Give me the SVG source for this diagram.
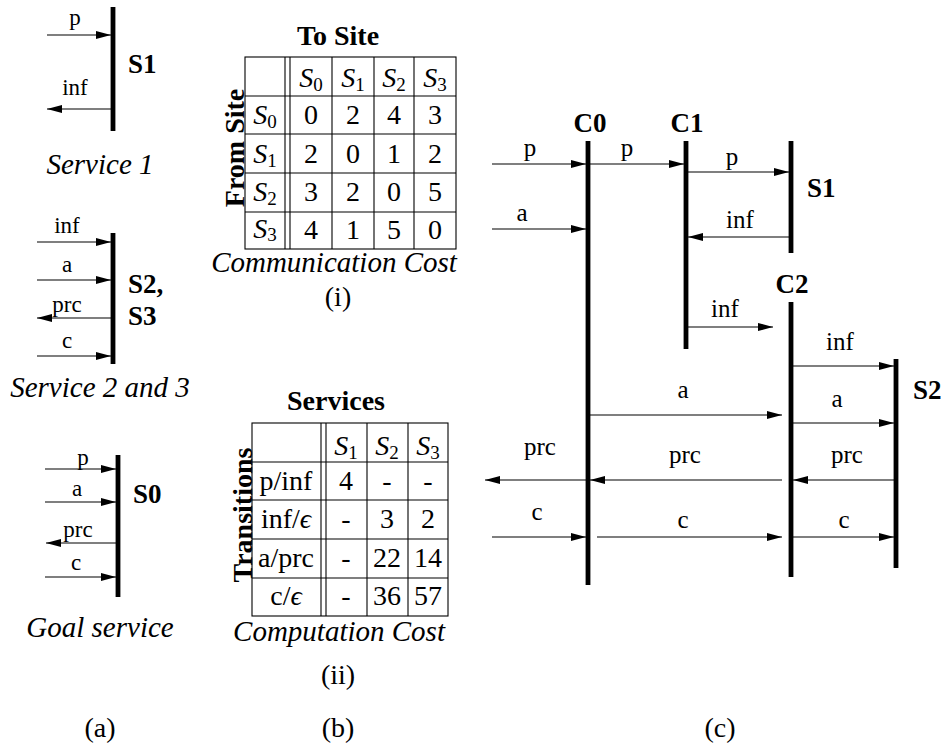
<svg xmlns="http://www.w3.org/2000/svg" width="945" height="746" viewBox="0 0 945 746" font-family="'Liberation Serif', 'Times New Roman', serif">
<style>
text{font-family:"Liberation Serif","Times New Roman","DejaVu Serif",serif;fill:#000}
.b{font-weight:bold;font-size:27px}
.t{font-weight:bold;font-size:28px}
.cap{font-style:italic;font-size:29px;text-anchor:middle}
.lbl{font-size:28px;text-anchor:middle}
.la{font-size:23px;text-anchor:middle}
.lc{font-size:25px;text-anchor:middle}
.cell{font-size:28px;text-anchor:middle}
.bar{stroke:#000;stroke-width:4.8;fill:none}
.arr{stroke:#000;stroke-width:1.1;fill:none;marker-end:url(#ah)}
.grid{stroke:#000;stroke-width:1.1;fill:none}
.sub{font-size:19px;font-style:normal}
.it{font-style:italic}
</style>
<defs>
<marker id="ah" markerWidth="15" markerHeight="8" refX="15" refY="4" orient="auto" markerUnits="userSpaceOnUse"><path d="M0,0 L15,4 L0,8 z" fill="#000"/></marker>
</defs>

<!-- (a) Service 1 -->
<g id="service1">
<line class="bar" x1="113" y1="7" x2="113" y2="131"/>
<text class="b" x="128" y="73">S1</text>
<text class="cap" x="100" y="174">Service 1</text>
</g>
<!-- (a) Service 2 and 3 -->
<g id="service23">
<line class="bar" x1="113" y1="233" x2="113" y2="364"/>
<text class="b" x="128" y="293">S2,</text>
<text class="b" x="128" y="325">S3</text>
<text class="cap" x="100" y="397">Service 2 and 3</text>
</g>
<!-- (a) Goal service -->
<g id="goal">
<line class="bar" x1="118" y1="455" x2="118" y2="597"/>
<text class="b" x="133" y="503">S0</text>
<text class="cap" x="100" y="637">Goal service</text>
</g>

<!-- (b) communication cost table -->
<g id="commtable">
<text class="t" x="338" y="45" text-anchor="middle">To Site</text>
<text class="t" transform="translate(244,148) rotate(-90)" text-anchor="middle">From Site</text>
<rect class="grid" x="245" y="57" width="211" height="192"/>
<line class="grid" x1="245" y1="96" x2="456" y2="96"/>
<line class="grid" x1="245" y1="134" x2="456" y2="134"/>
<line class="grid" x1="245" y1="173" x2="456" y2="173"/>
<line class="grid" x1="245" y1="212" x2="456" y2="212"/>
<line class="grid" x1="285" y1="57" x2="285" y2="249"/>
<line class="grid" x1="290" y1="57" x2="290" y2="249"/>
<line class="grid" x1="332" y1="57" x2="332" y2="249"/>
<line class="grid" x1="374" y1="57" x2="374" y2="249"/>
<line class="grid" x1="414" y1="57" x2="414" y2="249"/>
<text class="cell" x="311" y="87"><tspan class="it">S</tspan><tspan class="sub" dy="4">0</tspan></text>
<text class="cell" x="353" y="87"><tspan class="it">S</tspan><tspan class="sub" dy="4">1</tspan></text>
<text class="cell" x="394" y="87"><tspan class="it">S</tspan><tspan class="sub" dy="4">2</tspan></text>
<text class="cell" x="435" y="87"><tspan class="it">S</tspan><tspan class="sub" dy="4">3</tspan></text>
<text class="cell" x="265" y="124"><tspan class="it">S</tspan><tspan class="sub" dy="4">0</tspan></text>
<text class="cell" x="265" y="163"><tspan class="it">S</tspan><tspan class="sub" dy="4">1</tspan></text>
<text class="cell" x="265" y="201"><tspan class="it">S</tspan><tspan class="sub" dy="4">2</tspan></text>
<text class="cell" x="265" y="238"><tspan class="it">S</tspan><tspan class="sub" dy="3">3</tspan></text>
<text class="cell" x="311" y="124">0</text><text class="cell" x="353" y="124">2</text><text class="cell" x="394" y="124">4</text><text class="cell" x="435" y="124">3</text>
<text class="cell" x="311" y="163">2</text><text class="cell" x="353" y="163">0</text><text class="cell" x="394" y="163">1</text><text class="cell" x="435" y="163">2</text>
<text class="cell" x="311" y="201">3</text><text class="cell" x="353" y="201">2</text><text class="cell" x="394" y="201">0</text><text class="cell" x="435" y="201">5</text>
<text class="cell" x="311" y="239">4</text><text class="cell" x="353" y="239">1</text><text class="cell" x="394" y="239">5</text><text class="cell" x="435" y="239">0</text>
<text class="cap" x="334" y="272">Communication Cost</text>
<text class="lbl" x="338" y="306">(i)</text>
</g>

<!-- (b) computation cost table -->
<g id="comptable">
<text class="t" x="336" y="410" text-anchor="middle">Services</text>
<text class="t" transform="translate(252,515) rotate(-90)" text-anchor="middle">Transitions</text>
<rect class="grid" x="252" y="423" width="196" height="193"/>
<line class="grid" x1="252" y1="462" x2="448" y2="462"/>
<line class="grid" x1="252" y1="500" x2="448" y2="500"/>
<line class="grid" x1="252" y1="539" x2="448" y2="539"/>
<line class="grid" x1="252" y1="578" x2="448" y2="578"/>
<line class="grid" x1="321" y1="423" x2="321" y2="616"/>
<line class="grid" x1="326" y1="423" x2="326" y2="616"/>
<line class="grid" x1="367" y1="423" x2="367" y2="616"/>
<line class="grid" x1="408" y1="423" x2="408" y2="616"/>
<text class="cell" x="346" y="455"><tspan class="it">S</tspan><tspan class="sub" dy="4">1</tspan></text>
<text class="cell" x="387" y="455"><tspan class="it">S</tspan><tspan class="sub" dy="4">2</tspan></text>
<text class="cell" x="428" y="455"><tspan class="it">S</tspan><tspan class="sub" dy="4">3</tspan></text>
<text class="cell" x="286" y="490">p/inf</text>
<text class="cell" x="286" y="528">inf/<tspan class="it">ϵ</tspan></text>
<text class="cell" x="286" y="567">a/prc</text>
<text class="cell" x="286" y="605">c/<tspan class="it">ϵ</tspan></text>
<text class="cell" x="346" y="490">4</text><text class="cell" x="387" y="490">-</text><text class="cell" x="428" y="490">-</text>
<text class="cell" x="346" y="528">-</text><text class="cell" x="387" y="528">3</text><text class="cell" x="428" y="528">2</text>
<text class="cell" x="346" y="567">-</text><text class="cell" x="387" y="567">22</text><text class="cell" x="428" y="567">14</text>
<text class="cell" x="346" y="605">-</text><text class="cell" x="387" y="605">36</text><text class="cell" x="428" y="605">57</text>
<text class="cap" x="339" y="641">Computation Cost</text>
<text class="lbl" x="338" y="684">(ii)</text>
</g>

<!-- (c) lifelines -->
<g id="C0">
<line class="bar" x1="588" y1="141" x2="588" y2="585"/>
<text class="b" x="590" y="132" text-anchor="middle">C0</text>
</g>
<g id="C1">
<line class="bar" x1="686" y1="141" x2="686" y2="349"/>
<text class="b" x="687" y="132" text-anchor="middle">C1</text>
</g>
<g id="S1">
<line class="bar" x1="791" y1="141" x2="791" y2="253"/>
<text class="b" x="807" y="197">S1</text>
</g>
<g id="C2">
<line class="bar" x1="791" y1="302" x2="791" y2="577"/>
<text class="b" x="792" y="293" text-anchor="middle">C2</text>
</g>
<g id="S2">
<line class="bar" x1="896" y1="359" x2="896" y2="568"/>
<text class="b" x="913" y="399">S2</text>
</g>

<g id="captions">
<text class="lbl" x="100" y="737">(a)</text>
<text class="lbl" x="338" y="737">(b)</text>
<text class="lbl" x="720" y="737">(c)</text>
</g>

<!-- connectors -->
<g id="connectors">
<line class="arr" x1="47" y1="35" x2="111" y2="35"/>
<text class="la" x="75" y="25">p</text>
<line class="arr" x1="111" y1="109" x2="47" y2="109"/>
<text class="la" x="75" y="95">inf</text>
<line class="arr" x1="37" y1="242" x2="111" y2="242"/>
<text class="la" x="67" y="233">inf</text>
<line class="arr" x1="37" y1="280" x2="111" y2="280"/>
<text class="la" x="67" y="272">a</text>
<line class="arr" x1="111" y1="318" x2="37" y2="318"/>
<text class="la" x="67" y="312">prc</text>
<line class="arr" x1="37" y1="356" x2="111" y2="356"/>
<text class="la" x="67" y="348">c</text>
<line class="arr" x1="45" y1="469" x2="116" y2="469"/>
<text class="la" x="83" y="465">p</text>
<line class="arr" x1="45" y1="502" x2="116" y2="502"/>
<text class="la" x="77" y="496">a</text>
<line class="arr" x1="116" y1="543" x2="46" y2="543"/>
<text class="la" x="78" y="537">prc</text>
<line class="arr" x1="45" y1="577" x2="116" y2="577"/>
<text class="la" x="76" y="570">c</text>

<line class="arr" x1="492" y1="164" x2="586" y2="164"/>
<text class="lc" x="530" y="156">p</text>
<line class="arr" x1="590" y1="164" x2="684" y2="164"/>
<text class="lc" x="627" y="156">p</text>
<line class="arr" x1="492" y1="229" x2="586" y2="229"/>
<text class="lc" x="522" y="221">a</text>
<line class="arr" x1="688" y1="172" x2="789" y2="172"/>
<text class="lc" x="732" y="165">p</text>
<line class="arr" x1="789" y1="237" x2="688" y2="237"/>
<text class="lc" x="740" y="228">inf</text>
<line class="arr" x1="688" y1="327" x2="773" y2="327"/>
<text class="lc" x="725" y="317">inf</text>
<line class="arr" x1="793" y1="366" x2="894" y2="366"/>
<text class="lc" x="840" y="350">inf</text>
<line class="arr" x1="590" y1="415" x2="782" y2="415"/>
<text class="lc" x="683" y="398">a</text>
<line class="arr" x1="793" y1="423" x2="894" y2="423"/>
<text class="lc" x="837" y="407">a</text>
<line class="arr" x1="894" y1="480" x2="793" y2="480"/>
<text class="lc" x="847" y="463">prc</text>
<line class="arr" x1="782" y1="480" x2="590" y2="480"/>
<text class="lc" x="685" y="463">prc</text>
<line class="arr" x1="586" y1="480" x2="485" y2="480"/>
<text class="lc" x="540" y="455">prc</text>
<line class="arr" x1="492" y1="537" x2="586" y2="537"/>
<text class="lc" x="537" y="520">c</text>
<line class="arr" x1="597" y1="537" x2="782" y2="537"/>
<text class="lc" x="683" y="528">c</text>
<line class="arr" x1="793" y1="537" x2="894" y2="537"/>
<text class="lc" x="844" y="528">c</text>
</g>
</svg>
